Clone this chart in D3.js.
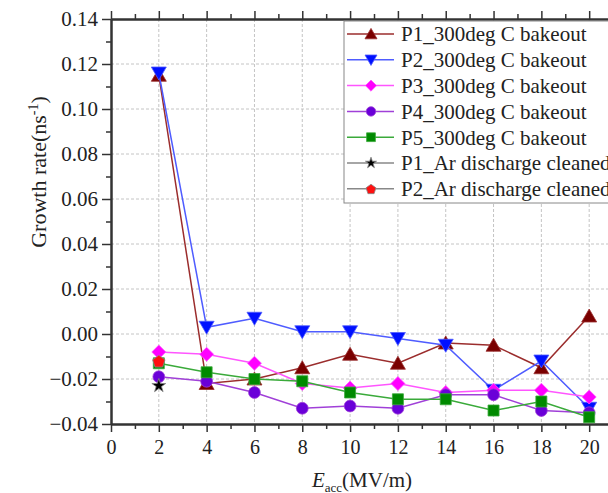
<!DOCTYPE html>
<html>
<head>
<meta charset="utf-8">
<script src="https://cdn.jsdelivr.net/npm/d3@7"></script>
<style>
  body { margin: 0; background: #fff; }
  text { font-family: "Liberation Serif", "Times New Roman", serif; fill: #222; }
</style>
</head>
<body>
<script>
// field values (MV/m)
var eacc = [2, 4, 6, 8, 10, 12, 14, 16, 18, 20];

// growth rates (ns^-1)
var p1Bake = [0.115, -0.022, -0.020, -0.015, -0.009, -0.013, -0.004, -0.005, -0.015, 0.008];
var p2Bake = [0.116, 0.003, 0.007, 0.001, 0.001, -0.002, -0.005, -0.025, -0.012, -0.033];
var p3Bake = [-0.008, -0.009, -0.013, -0.022, -0.024, -0.022, -0.026, -0.025, -0.025, -0.028];
var p4Bake = [-0.019, -0.021, -0.026, -0.033, -0.032, -0.033, -0.027, -0.027, -0.034, -0.035];
var p5Bake = [-0.013, -0.017, -0.020, -0.021, -0.026, -0.029, -0.029, -0.034, -0.030, -0.037];
var p1Ar = [-0.023];
var p2Ar = [-0.012];
var arX = [2];

var yTicks = [-0.04, -0.02, 0.00, 0.02, 0.04, 0.06, 0.08, 0.10, 0.12, 0.14];
var xTicks = [0, 2, 4, 6, 8, 10, 12, 14, 16, 18, 20];

var series = [
  {name: "P1_300deg C bakeout", x: eacc, y: p1Bake, line: "#9b2d2d", fill: "#7a0000", shape: "up"},
  {name: "P2_300deg C bakeout", x: eacc, y: p2Bake, line: "#4f5cff", fill: "#0010ff", shape: "down"},
  {name: "P3_300deg C bakeout", x: eacc, y: p3Bake, line: "#ff55ff", fill: "#ff00ff", shape: "diamond"},
  {name: "P4_300deg C bakeout", x: eacc, y: p4Bake, line: "#a040d8", fill: "#6a00d8", shape: "circle"},
  {name: "P5_300deg C bakeout", x: eacc, y: p5Bake, line: "#3aaa3a", fill: "#008a00", shape: "square"},
  {name: "P1_Ar discharge cleaned", x: arX, y: p1Ar, line: "#888", fill: "#000", shape: "star"},
  {name: "P2_Ar discharge cleaned", x: arX, y: p2Ar, line: "#888", fill: "#ff1010", shape: "pentagon"}
];

var width = 608,
    height = 493,
    plotLeft = 111,
    plotTop = 19,
    plotBottom = 424,
    plotRight = 637;

var x = d3.scaleLinear().domain([0, 22]).range([plotLeft, plotRight]);
var y = d3.scaleLinear().domain([-0.04, 0.14]).range([plotBottom, plotTop]);

var svg = d3.select("body").append("svg")
    .attr("width", width)
    .attr("height", height);

// Marker shapes centred on 0,0
function marker(shape) {
  if (shape == "up") return "M0,-7L7.5,6L-7.5,6Z";
  if (shape == "down") return "M0,7L7.5,-6L-7.5,-6Z";
  if (shape == "diamond") return "M0,-7L7,0L0,7L-7,0Z";
  if (shape == "square") return "M-5.5,-5.5H5.5V5.5H-5.5Z";
  if (shape == "circle") return d3.symbol(d3.symbolCircle, 110)();
  if (shape == "star") return d3.symbol(d3.symbolStar, 60)();
  if (shape == "pentagon") {
    var pts = d3.range(5).map(function(i) {
      var a = -Math.PI / 2 + i * 2 * Math.PI / 5;
      return [6.5 * Math.cos(a), 6.5 * Math.sin(a) + 0.8];
    });
    return "M" + pts.join("L") + "Z";
  }
}

// Grid lines
svg.append("g")
    .selectAll("line")
    .data(xTicks.slice(1))
    .enter()
    .append("line")
    .attr("x1", function(d) { return x(d); })
    .attr("x2", function(d) { return x(d); })
    .attr("y1", plotTop)
    .attr("y2", plotBottom)
    .attr("stroke", "#c4c4c4")
    .attr("stroke-dasharray", "3,2");

svg.append("g")
    .selectAll("line")
    .data(yTicks.slice(1, -1))
    .enter()
    .append("line")
    .attr("x1", plotLeft)
    .attr("x2", plotRight)
    .attr("y1", function(d) { return y(d); })
    .attr("y2", function(d) { return y(d); })
    .attr("stroke", "#c4c4c4")
    .attr("stroke-dasharray", "3,2");

// Axes: major ticks plus minor ticks
var xMinor = d3.range(1, 22, 2);
var yMinor = d3.range(-0.03, 0.14, 0.02);

function styleAxis(size) {
  return function(g) {
    g.attr("font-family", null).attr("font-size", null);
    g.select(".domain").attr("stroke", "#333").attr("stroke-width", 2);
    g.selectAll(".tick line").attr("stroke", "#333").attr("stroke-width", 1.5);
    g.selectAll(".tick text")
        .style("font-size", size + "px")
        .attr("fill", "#222");
  };
}

svg.append("g")
    .attr("transform", "translate(0," + plotBottom + ")")
    .call(d3.axisBottom(x).tickValues(xTicks).tickSize(8).tickPadding(8).tickSizeOuter(0))
    .call(styleAxis(20));
svg.append("g")
    .attr("transform", "translate(0," + plotBottom + ")")
    .call(d3.axisBottom(x).tickValues(xMinor).tickSize(5).tickFormat("").tickSizeOuter(0))
    .call(styleAxis(20));

svg.append("g")
    .attr("transform", "translate(0," + plotTop + ")")
    .call(d3.axisTop(x).tickValues(xTicks).tickSize(8).tickFormat("").tickSizeOuter(0))
    .call(styleAxis(20));
svg.append("g")
    .attr("transform", "translate(0," + plotTop + ")")
    .call(d3.axisTop(x).tickValues(xMinor).tickSize(5).tickFormat("").tickSizeOuter(0))
    .call(styleAxis(20));

svg.append("g")
    .attr("transform", "translate(" + plotLeft + ",0)")
    .call(d3.axisLeft(y).tickValues(yTicks).tickSize(9).tickPadding(4).tickSizeOuter(0)
      .tickFormat(d3.format(".2f")))
    .call(styleAxis(21));
svg.append("g")
    .attr("transform", "translate(" + plotLeft + ",0)")
    .call(d3.axisLeft(y).tickValues(yMinor).tickSize(5).tickFormat("").tickSizeOuter(0))
    .call(styleAxis(21));

// Series lines and markers
var line = d3.line()
    .x(function(d) { return x(d[0]); })
    .y(function(d) { return y(d[1]); });

series.forEach(function(s) {
  var pts = d3.zip(s.x, s.y);
  svg.append("path")
      .datum(pts)
      .attr("fill", "none")
      .attr("stroke", s.line)
      .attr("stroke-width", 1.5)
      .attr("d", line);
  svg.append("g")
      .selectAll("path")
      .data(pts)
      .enter()
      .append("path")
      .attr("transform", function(d) { return "translate(" + x(d[0]) + "," + y(d[1]) + ")"; })
      .attr("d", marker(s.shape))
      .attr("fill", s.fill)
      .attr("stroke", s.line)
      .attr("stroke-width", 0.8);
});

// Legend
var legend = svg.append("g");
legend.append("rect")
    .attr("x", 344)
    .attr("y", 21)
    .attr("width", 290)
    .attr("height", 182)
    .attr("fill", "#fff")
    .attr("stroke", "#888");

var item = legend.selectAll("g.item")
    .data(series)
    .enter()
    .append("g")
    .attr("class", "item")
    .attr("transform", function(d, i) { return "translate(0," + (34 + i * 25.8) + ")"; });

item.append("line")
    .attr("x1", 347)
    .attr("x2", 394)
    .attr("stroke", function(d) { return d.line; })
    .attr("stroke-width", 1.5);
item.append("path")
    .attr("transform", "translate(371,0) scale(0.8)")
    .attr("d", function(d) { return marker(d.shape); })
    .attr("fill", function(d) { return d.fill; })
    .attr("stroke", function(d) { return d.line; });
item.append("text")
    .attr("x", 401)
    .attr("dy", "0.35em")
    .style("font-size", "21px")
    .text(function(d) { return d.name; });

// Axis titles
var yt = svg.append("text")
    .attr("transform", "translate(46,172) rotate(-90)")
    .attr("text-anchor", "middle")
    .style("font-size", "22px");
yt.append("tspan").text("Growth rate(ns");
yt.append("tspan").attr("dy", -8).style("font-size", "14px").text("-1");
yt.append("tspan").attr("dy", 8).text(")");

var xt = svg.append("text")
    .attr("x", 362)
    .attr("y", 487)
    .attr("text-anchor", "middle")
    .style("font-size", "21px");
xt.append("tspan").style("font-style", "italic").text("E");
xt.append("tspan").attr("dy", 5).style("font-size", "13px").text("acc");
xt.append("tspan").attr("dy", -5).text("(MV/m)");
</script>
</body>
</html>
